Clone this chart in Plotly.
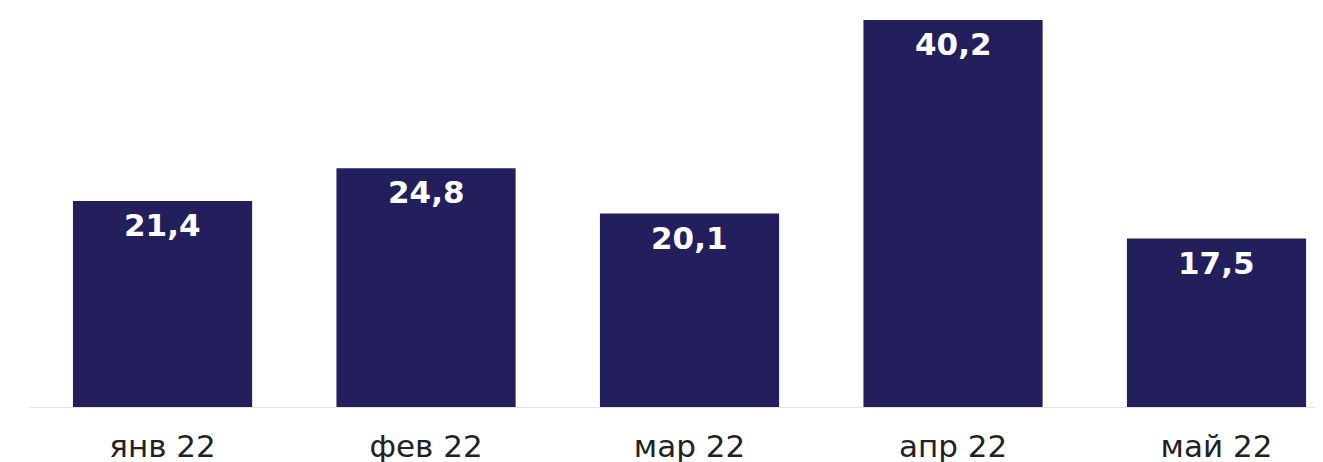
import plotly.graph_objects as go

categories = ["янв 22", "фев 22", "мар 22", "апр 22", "май 22"]
values = [21.4, 24.8, 20.1, 40.2, 17.5]
value_labels = ["21,4", "24,8", "20,1", "40,2", "17,5"]

bar_color = "#221f5c"

fig = go.Figure()
fig.add_trace(go.Bar(
    x=list(range(len(categories))),
    y=values,
    marker=dict(color=bar_color, line=dict(width=0)),
    hoverinfo="skip",
))

for i, (v, lab) in enumerate(zip(values, value_labels)):
    fig.add_annotation(
        x=i, y=v, text=lab, showarrow=False,
        yanchor="top", yshift=-4,
        font=dict(family="DejaVu Sans", size=31, color="white", weight="bold"),
    )

fig.update_layout(
    width=1323, height=462,
    margin=dict(l=22, r=0, t=0, b=63),
    paper_bgcolor="white", plot_bgcolor="white",
    bargap=0.32,
    showlegend=False,
    xaxis=dict(
        tickmode="array",
        tickvals=list(range(len(categories))),
        ticktext=categories,
        range=[-0.503, 4.4345],
        showgrid=False, zeroline=False,
        showline=True, linecolor="#e3e3e3", linewidth=1,
        ticks="", ticklabelstandoff=12,
        tickfont=dict(family="DejaVu Sans", size=31, color="#222222"),
    ),
    yaxis=dict(
        range=[0, 41.45],
        visible=False, showgrid=False, zeroline=False,
    ),
)

fig.write_html("out.html")
